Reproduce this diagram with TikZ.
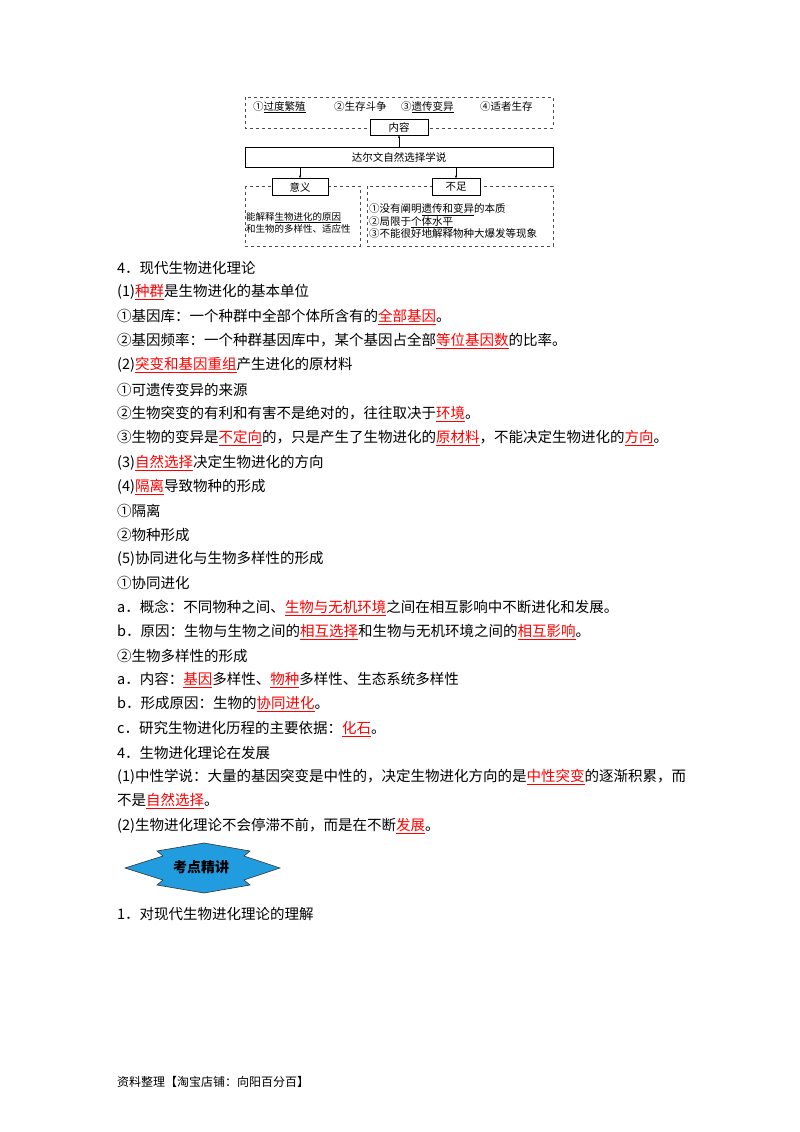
\documentclass[tikz,border=0pt]{standalone}
\usepackage{fontspec}
\setmainfont{Noto Sans CJK SC}
\usetikzlibrary{arrows.meta}
\newcommand{\ans}[1]{\textcolor{red}{\underline{#1}}}
\newcommand{\ul}[1]{\underline{#1}}
\tikzset{
    txt/.style = {anchor=west, inner sep=0pt, font=\fontsize{14.5}{16}\selectfont},
    dbox/.style = {draw=black!70, dashed, thin},
    sbox/.style = {draw=black, thin, fill=white, inner sep=1pt, font=\fontsize{10.5}{12}\selectfont},
    small/.style = {anchor=west, inner sep=0pt, font=\fontsize{10.5}{12.5}\selectfont, align=left}
}
\begin{document}
\begin{tikzpicture}[x=1pt,y=-1pt,>={Stealth[length=3pt]}]
    \useasboundingbox (0,0) rectangle (800,1132);
    % diagram
    \draw [dbox] (245,97) rectangle (553,128);
    \node [small] (c1) at (253,107) {①\ul{过度繁殖}};
    \node [small] (c2) at (334,107) {②生存斗争};
    \node [small] (c3) at (401,107) {③\ul{遗传变异}};
    \node [small] (c4) at (480,107) {④适者生存};
    \draw [dbox] (245,186) rectangle (360,246);
    \draw [dbox] (367,186) rectangle (553,246);
    \node [sbox, minimum width=308pt, minimum height=20pt] (main) at (399,157) {达尔文自然选择学说};
    \node [sbox, minimum width=58pt, minimum height=16pt] (content) at (399,127) {内容};
    \node [sbox, minimum width=56pt, minimum height=17pt] (meaning) at (300,187) {意义};
    \node [sbox, minimum width=48pt, minimum height=17pt] (lack) at (456,187) {不足};
    \draw [->] (main.north -| content) -- (content.south);
    \draw [->] (main.south -| meaning) -- (meaning.north);
    \draw [->] (main.south -| lack) -- (lack.north);
    \node [small, font=\fontsize{9.5}{12.5}\selectfont] at (246,223) {能解释\ul{生物进化的原因}\\和生物的多样性、适应性};
    \node [small] at (369,221) {①没有阐明\ul{遗传和变异}的本质\\②局限于\ul{个体水平}\\③不能很好地解释物种大爆发等现象};
    % text
    \node [txt] (l1) at (117,268) {4．现代生物进化理论};
    \node [txt] (l2) at (117,292) {(1)\ans{种群}是生物进化的基本单位};
    \node [txt] (l3) at (117,317) {①基因库：一个种群中全部个体所含有的\ans{全部基因}。};
    \node [txt] (l4) at (117,341) {②基因频率：一个种群基因库中，某个基因占全部\ans{等位基因数}的比率。};
    \node [txt] (l5) at (117,365) {(2)\ans{突变和基因重组}产生进化的原材料};
    \node [txt] (l6) at (117,390) {①可遗传变异的来源};
    \node [txt] (l7) at (117,414) {②生物突变的有利和有害不是绝对的，往往取决于\ans{环境}。};
    \node [txt] (l8) at (117,438) {③生物的变异是\ans{不定向}的，只是产生了生物进化的\ans{原材料}，不能决定生物进化的\ans{方向}。};
    \node [txt] (l9) at (117,463) {(3)\ans{自然选择}决定生物进化的方向};
    \node [txt] (l10) at (117,487) {(4)\ans{隔离}导致物种的形成};
    \node [txt] (l11) at (117,511) {①隔离};
    \node [txt] (l12) at (117,535) {②物种形成};
    \node [txt] (l13) at (117,559) {(5)协同进化与生物多样性的形成};
    \node [txt] (l14) at (117,583) {①协同进化};
    \node [txt] (l15) at (117,608) {a．概念：不同物种之间、\ans{生物与无机环境}之间在相互影响中不断进化和发展。};
    \node [txt] (l16) at (117,632) {b．原因：生物与生物之间的\ans{相互选择}和生物与无机环境之间的\ans{相互影响}。};
    \node [txt] (l17) at (117,656) {②生物多样性的形成};
    \node [txt] (l18) at (117,680) {a．内容：\ans{基因}多样性、\ans{物种}多样性、生态系统多样性};
    \node [txt] (l19) at (117,704) {b．形成原因：生物的\ans{协同进化}。};
    \node [txt] (l20) at (117,729) {c．研究生物进化历程的主要依据：\ans{化石}。};
    \node [txt] (l21) at (117,753) {4．生物进化理论在发展};
    \node [txt] (l22) at (117,777) {(1)中性学说：大量的基因突变是中性的，决定生物进化方向的是\ans{中性突变}的逐渐积累，而};
    \node [txt] (l23) at (117,801) {不是\ans{自然选择}。};
    \node [txt] (l24) at (117,826) {(2)生物进化理论不会停滞不前，而是在不断\ans{发展}。};
    % banner
    \draw [fill=cyan!80!blue!90, draw=black!80, line width=0.6pt]
        (125,868) -- (163,856) -- (157,851) -- (204,843) -- (250,851) -- (244,856) -- (280,868)
        -- (244,880) -- (250,885) -- (204,893) -- (157,885) -- (163,880) -- cycle;
    \node [font=\fontsize{14}{16}\selectfont\bfseries] (banner) at (201,867) {考点精讲};
    \node [txt] (l25) at (117,914) {1．对现代生物进化理论的理解};
    \node [txt, font=\fontsize{12}{13}\selectfont] (foot) at (117,1082) {资料整理【淘宝店铺：向阳百分百】};
\end{tikzpicture}
\end{document}
